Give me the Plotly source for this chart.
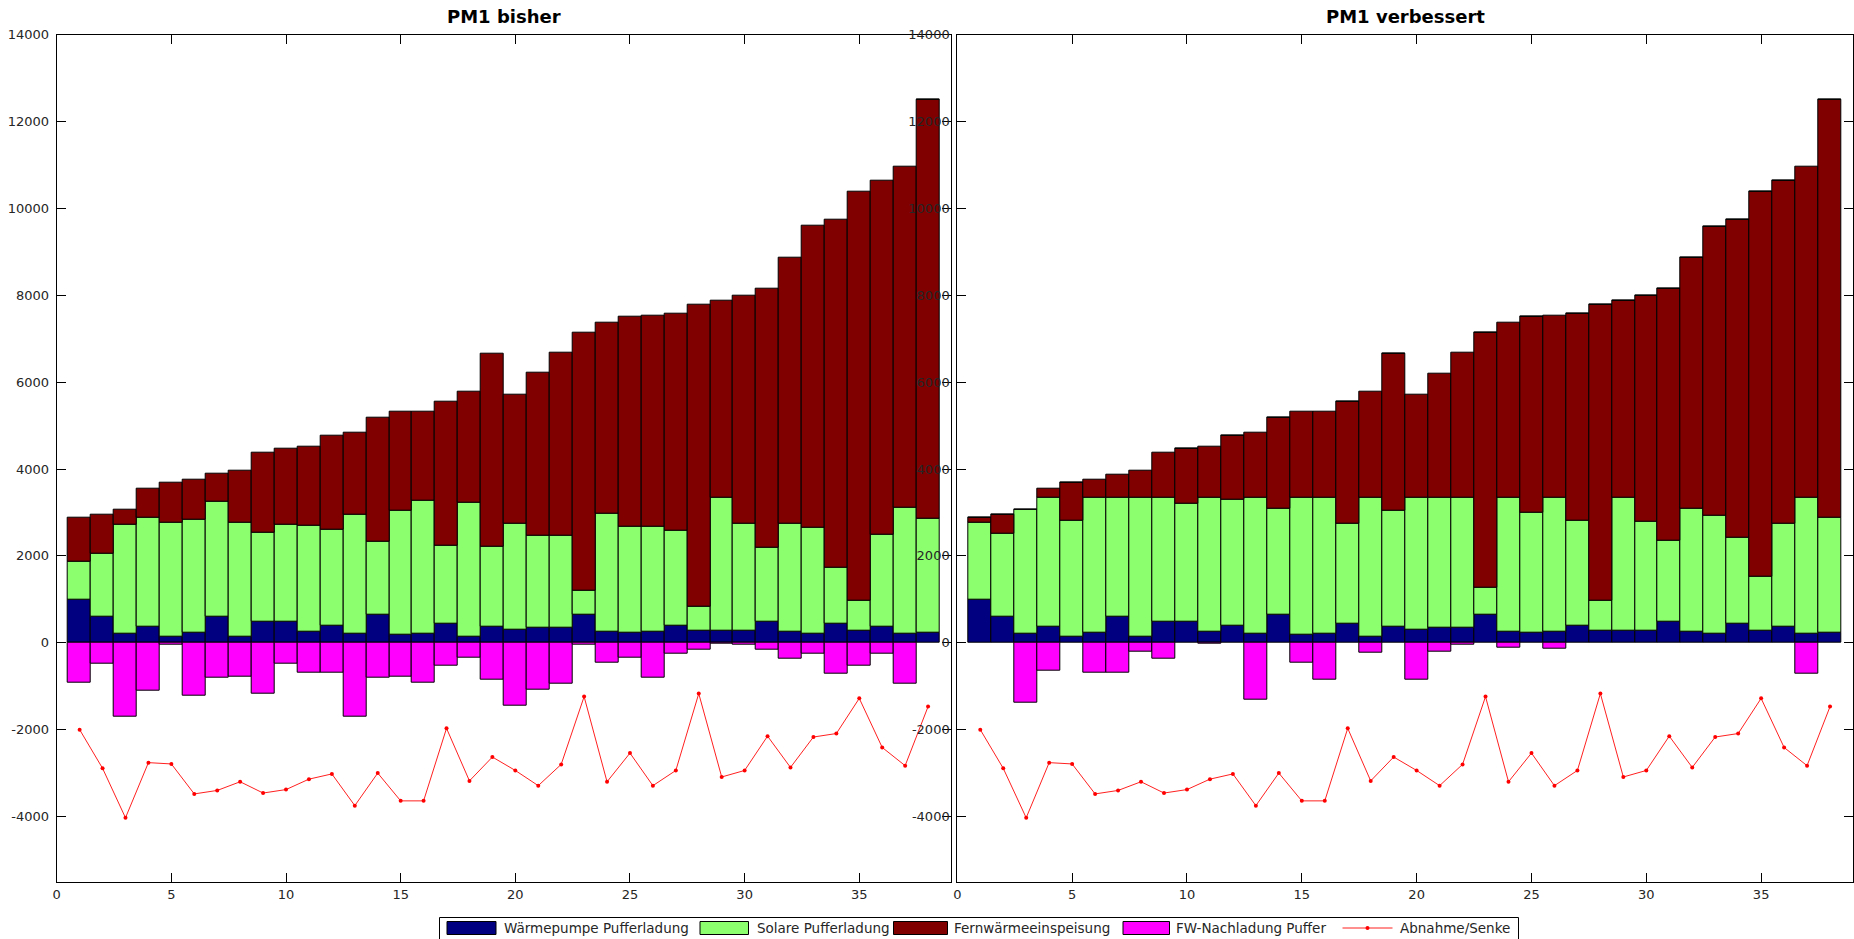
import plotly.graph_objects as go

# ---- data -------------------------------------------------------------
intervals = list(range(1, 39))

waermepumpe = [1000, 610, 200, 370, 150, 240, 610, 150, 480, 480, 260, 390, 220, 640, 180, 200, 440, 150, 360,
               310, 350, 350, 640, 260, 240, 260, 390, 280, 280, 280, 480, 260, 220, 450, 280, 360, 200, 240]

solar_bisher = [870, 1430, 2520, 2500, 2610, 2590, 2640, 2610, 2060, 2240, 2430, 2220, 2740, 1690, 2870, 3070, 1790,
                3070, 1850, 2430, 2110, 2110, 570, 2720, 2430, 2410, 2200, 540, 3070, 2460, 1720, 2480, 2430, 1270,
                690, 2130, 2910, 2610]
fw_bisher = [1010, 920, 350, 680, 920, 920, 640, 1210, 1830, 1750, 1830, 2160, 1880, 2860, 2270, 2050, 3310, 2560,
             4450, 2980, 3750, 4230, 5930, 4400, 4840, 4870, 4990, 6960, 4520, 5260, 5960, 6130, 6950, 8030, 9410,
             8150, 7840, 9660]
nachladung_bisher = [-910, -490, -1710, -1100, -50, -1210, -800, -780, -1170, -490, -680, -680, -1710, -800, -780,
                     -910, -530, -340, -840, -1450, -1090, -940, -50, -460, -340, -800, -250, -160, -10, -50, -160,
                     -360, -250, -710, -530, -250, -940, 0]

solar_verbessert = [1760, 1910, 2870, 2980, 2660, 3110, 2740, 3200, 2870, 2720, 3090, 2900, 3130, 2450, 3170, 3150,
                    2300, 3200, 2690, 3040, 3000, 3000, 630, 3090, 2760, 3090, 2430, 700, 3070, 2510, 1870, 2830,
                    2700, 1960, 1240, 2380, 3150, 2630]
fw_verbessert = [120, 440, 0, 200, 870, 400, 530, 620, 1020, 1270, 1170, 1480, 1490, 2090, 1970, 1970, 2800, 2440,
                 3610, 2370, 2850, 3340, 5880, 4030, 4510, 4190, 4760, 6800, 4520, 5210, 5800, 5780, 6670, 7340,
                 8860, 7910, 7600, 9630]
nachladung_verbessert = [0, 0, -1370, -640, 0, -680, -680, -200, -360, 0, -30, 0, -1320, 0, -450, -840, 0, -220, 0,
                         -840, -200, -50, 0, -120, 0, -140, 0, 0, 0, 0, 0, 0, 0, 0, 0, 0, -710, 0]

abnahme = [-2000, -2890, -4030, -2760, -2790, -3480, -3400, -3200, -3460, -3380, -3140, -3020, -3750, -3000, -3640,
           -3640, -1970, -3180, -2630, -2940, -3290, -2800, -1240, -3200, -2540, -3290, -2940, -1170, -3090, -2940,
           -2150, -2870, -2170, -2090, -1280, -2410, -2830, -1470]

titles = ["PM1 bisher", "PM1 verbessert"]
series_names = ["Wärmepumpe Pufferladung", "Solare Pufferladung", "Fernwärmeeinspeisung",
                "FW-Nachladung Puffer", "Abnahme/Senke"]
y_ticks = list(range(-4000, 14001, 2000))
x_ticks = list(range(0, 40, 5))

# ---- style ------------------------------------------------------------
W, H = 1854, 939
C_WP = "#000080"
C_SOLAR = "#8cff6e"
C_FW = "#800000"
C_NACH = "#ff00ff"
C_LINE = "#ff2020"
FONT = "DejaVu Sans"
TXT = "#262626"


def px(x):
    return x / W


def py(y):
    return 1 - y / H


fig = go.Figure()

panels = [
    ("x", "y", solar_bisher, fw_bisher, nachladung_bisher),
    ("x2", "y2", solar_verbessert, fw_verbessert, nachladung_verbessert),
]

for xa, ya, solar, fw, nach in panels:
    for vals, col, name in [(waermepumpe, C_WP, series_names[0]),
                            (solar, C_SOLAR, series_names[1]),
                            (fw, C_FW, series_names[2]),
                            (nach, C_NACH, series_names[3])]:
        fig.add_trace(go.Bar(
            x=intervals, y=vals, width=1, name=name,
            marker=dict(color=col, line=dict(color="black", width=1)),
            xaxis=xa, yaxis=ya, showlegend=False,
        ))
    fig.add_trace(go.Scatter(
        x=intervals, y=abnahme, mode="lines+markers", name=series_names[4],
        line=dict(color=C_LINE, width=1),
        marker=dict(color="red", size=4),
        xaxis=xa, yaxis=ya, showlegend=False,
    ))

dom_left = [px(56.7), px(951)]
dom_right = [px(957.3), px(1853)]
dom_y = [py(882.3), py(34.7)]

axis_common = dict(
    showline=True, linecolor="black", linewidth=1, mirror="ticks",
    ticks="inside", ticklen=9, tickwidth=1, tickcolor="black",
    showgrid=False, zeroline=False, automargin=False,
    tickfont=dict(family=FONT, size=13, color=TXT),
)
xaxis_cfg = dict(axis_common, range=[0, 39], tickvals=x_ticks, ticktext=[str(v) for v in x_ticks])
yaxis_cfg = dict(axis_common, range=[-5515, 14000], tickvals=y_ticks, ticktext=[str(v) for v in y_ticks],
                 ticklabelstandoff=4)

fig.update_layout(
    width=W, height=H, autosize=False,
    margin=dict(l=0, r=0, t=0, b=0, pad=0),
    paper_bgcolor="white", plot_bgcolor="white",
    barmode="relative", bargap=0,
    showlegend=False,
    xaxis=dict(xaxis_cfg, domain=dom_left, anchor="y"),
    yaxis=dict(yaxis_cfg, domain=dom_y, anchor="x"),
    xaxis2=dict(xaxis_cfg, domain=dom_right, anchor="y2"),
    yaxis2=dict(yaxis_cfg, domain=dom_y, anchor="x2"),
    font=dict(family=FONT, color=TXT),
)

# panel titles
annotations = []
for dom, t in [(dom_left, titles[0]), (dom_right, titles[1])]:
    annotations.append(dict(
        x=(dom[0] + dom[1]) / 2, y=py(17), xref="paper", yref="paper",
        text=f"<b>{t}</b>", showarrow=False, xanchor="center", yanchor="middle",
        font=dict(family=FONT, size=18, color="black"),
    ))

# legend box drawn below the panels
shapes = [dict(type="rect", xref="paper", yref="paper",
               x0=px(439.5), x1=px(1518.5), y0=py(950), y1=py(917.5),
               line=dict(color="black", width=1), fillcolor="white", layer="below")]

legend_items = [
    ("rect", C_WP, 447, 496, 501.5, series_names[0]),
    ("rect", C_SOLAR, 700, 748.5, 754.5, series_names[1]),
    ("rect", C_FW, 893.5, 947.5, 951.5, series_names[2]),
    ("rect", C_NACH, 1123, 1169.5, 1174, series_names[3]),
    ("line", C_LINE, 1342.5, 1392.5, 1398, series_names[4]),
]
sy0, sy1, ty = 921.5, 934.5, 928
for kind, col, x0, x1, tx, label in legend_items:
    if kind == "rect":
        shapes.append(dict(type="rect", xref="paper", yref="paper",
                           x0=px(x0), x1=px(x1), y0=py(sy1), y1=py(sy0),
                           fillcolor=col, line=dict(color="black", width=1)))
    else:
        shapes.append(dict(type="line", xref="paper", yref="paper",
                           x0=px(x0), x1=px(x1), y0=py(ty), y1=py(ty),
                           line=dict(color=col, width=1)))
        cx = (x0 + x1) / 2
        shapes.append(dict(type="circle", xref="paper", yref="paper",
                           x0=px(cx - 2), x1=px(cx + 2), y0=py(ty + 2), y1=py(ty - 2),
                           fillcolor="red", line=dict(color="red", width=0)))
    annotations.append(dict(
        x=px(tx), y=py(ty), xref="paper", yref="paper", text=label, showarrow=False,
        xanchor="left", yanchor="middle", font=dict(family=FONT, size=13.5, color=TXT),
    ))

fig.update_layout(shapes=shapes, annotations=annotations)

fig.write_html("out.html")
